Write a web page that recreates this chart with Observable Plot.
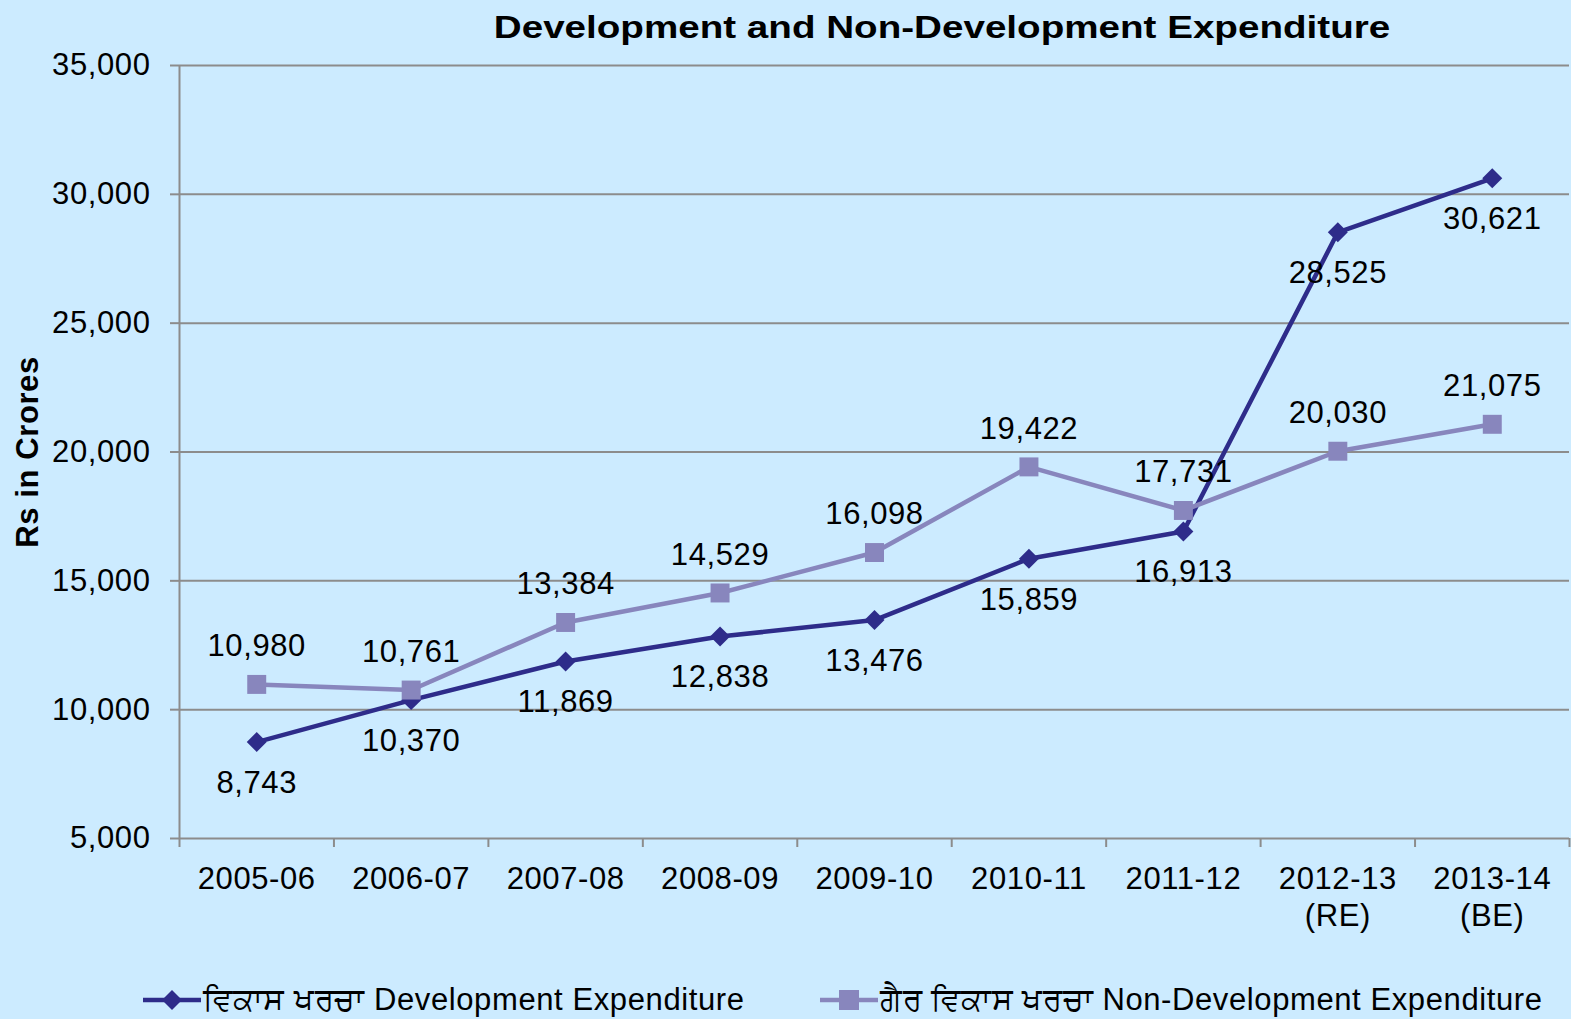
<!DOCTYPE html>
<html>
<head>
<meta charset="utf-8">
<script src="https://cdn.jsdelivr.net/npm/d3@7"></script>
<script src="https://cdn.jsdelivr.net/npm/@observablehq/plot@0.6"></script>
<style>
  html, body { margin: 0; padding: 0; background: #CCEBFF; }
  #wrap { position: relative; width: 1571px; height: 1019px; background: #CCEBFF; overflow: hidden;
          font-family: "Liberation Sans", Arial, sans-serif; color: #000; }
  #title { position: absolute; top: 8px; left: 442px; width: 1000px; text-align: center;
           font-size: 31px; font-weight: bold; line-height: 40px; transform: scaleX(1.245); transform-origin: 500px 0; white-space: nowrap; }
  #chart { position: absolute; top: 0; left: 0; }
  #legend { position: absolute; top: 980px; left: 0; width: 1571px; height: 40px; font-size: 31px; letter-spacing: 0.6px; }
  .item { position: absolute; top: 0; display: flex; align-items: center; white-space: nowrap; height: 40px; }
  .item svg { display: block; }
</style>
</head>
<body>
<div id="wrap">
  <div id="title">Development and Non-Development Expenditure</div>
  <div id="chart"></div>
  <div id="legend"></div>
</div>
<script>
const categories = ["2005-06", "2006-07", "2007-08", "2008-09", "2009-10", "2010-11", "2011-12", "2012-13\n(RE)", "2013-14\n(BE)"];
const devExpenditure = [8743, 10370, 11869, 12838, 13476, 15859, 16913, 28525, 30621];
const nonDevExpenditure = [10980, 10761, 13384, 14529, 16098, 19422, 17731, 20030, 21075];
const yTicks = [5000, 10000, 15000, 20000, 25000, 30000, 35000];
const seriesNames = ["ਵਿਕਾਸ ਖਰਚਾ Development Expenditure", "ਗੈਰ ਵਿਕਾਸ ਖਰਚਾ Non-Development Expenditure"];
const colors = ["#2E2C8A", "#8886BD"];

const idx = categories.map((_, i) => i);
const bounds = categories.map((_, i) => i - 0.5).concat([categories.length - 0.5]);
const fmt = d3.format(",");

const plot = Plot.plot({
  width: 1571,
  height: 960,
  marginTop: 65,
  marginBottom: 122,
  marginLeft: 179,
  marginRight: 2,
  style: { background: "transparent", fontSize: "31px", fontFamily: "'Liberation Sans', Arial, sans-serif", color: "#000", letterSpacing: "0.6px" },
  x: { type: "linear", domain: [-0.5, categories.length - 0.5] },
  y: { domain: [5000, 35000] },
  marks: [
    Plot.ruleY(yTicks, { stroke: "#8C8C8C", strokeWidth: 2 }),
    Plot.ruleX([-0.5], { stroke: "#8C8C8C", strokeWidth: 2 }),
    Plot.axisY({ ticks: yTicks, tickFormat: fmt, tickSize: 9, tickPadding: 20, stroke: "#8C8C8C", strokeWidth: 2, label: null, fontSize: 31 }),
    Plot.axisX({ ticks: bounds, tickFormat: () => "", tickSize: 9, stroke: "#8C8C8C", strokeWidth: 2, label: null }),
    Plot.axisX({ ticks: idx, tickFormat: (i) => categories[i], tickSize: 0, tickPadding: 24, label: null, lineHeight: 1.2, fontSize: 31 }),
    Plot.text(["Rs in Crores"], { frameAnchor: "left", textAnchor: "middle", rotate: -90, dx: -151, fontWeight: "bold", fontSize: 31 }),
    Plot.line(idx, { x: (i) => i, y: (i) => devExpenditure[i], stroke: colors[0], strokeWidth: 4.5 }),
    Plot.line(idx, { x: (i) => i, y: (i) => nonDevExpenditure[i], stroke: colors[1], strokeWidth: 4.5 }),
    Plot.dot(idx, { x: (i) => i, y: (i) => devExpenditure[i], symbol: "diamond2", r: 9, fill: colors[0], stroke: "none" }),
    Plot.dot(idx, { x: (i) => i, y: (i) => nonDevExpenditure[i], symbol: "square", r: 10.7, fill: colors[1], stroke: "none" }),
    Plot.text(idx, { x: (i) => i, y: (i) => devExpenditure[i], text: (i) => fmt(devExpenditure[i]), dy: 41, fontSize: 31, fill: "#000" }),
    Plot.text(idx, { x: (i) => i, y: (i) => nonDevExpenditure[i], text: (i) => fmt(nonDevExpenditure[i]), dy: -38, fontSize: 31, fill: "#000" })
  ]
});
document.getElementById("chart").appendChild(plot);

// Legend
const legend = document.getElementById("legend");
const legendLeft = [143, 820];
seriesNames.forEach((name, k) => {
  const item = document.createElement("div");
  item.className = "item";
  item.style.left = legendLeft[k] + "px";
  const svg = d3.create("svg").attr("width", 60).attr("height", 40);
  svg.append("line").attr("x1", 0).attr("x2", 58).attr("y1", 20).attr("y2", 20)
    .attr("stroke", colors[k]).attr("stroke-width", 4.5);
  if (k === 0) {
    svg.append("path").attr("d", d3.symbol(d3.symbolDiamond2, 256)()).attr("transform", "translate(29,20)").attr("fill", colors[k]);
  } else {
    svg.append("rect").attr("x", 19).attr("y", 10).attr("width", 20).attr("height", 20).attr("fill", colors[k]);
  }
  item.appendChild(svg.node());
  const span = document.createElement("span");
  span.textContent = name;
  item.appendChild(span);
  legend.appendChild(item);
});
</script>
</body>
</html>
